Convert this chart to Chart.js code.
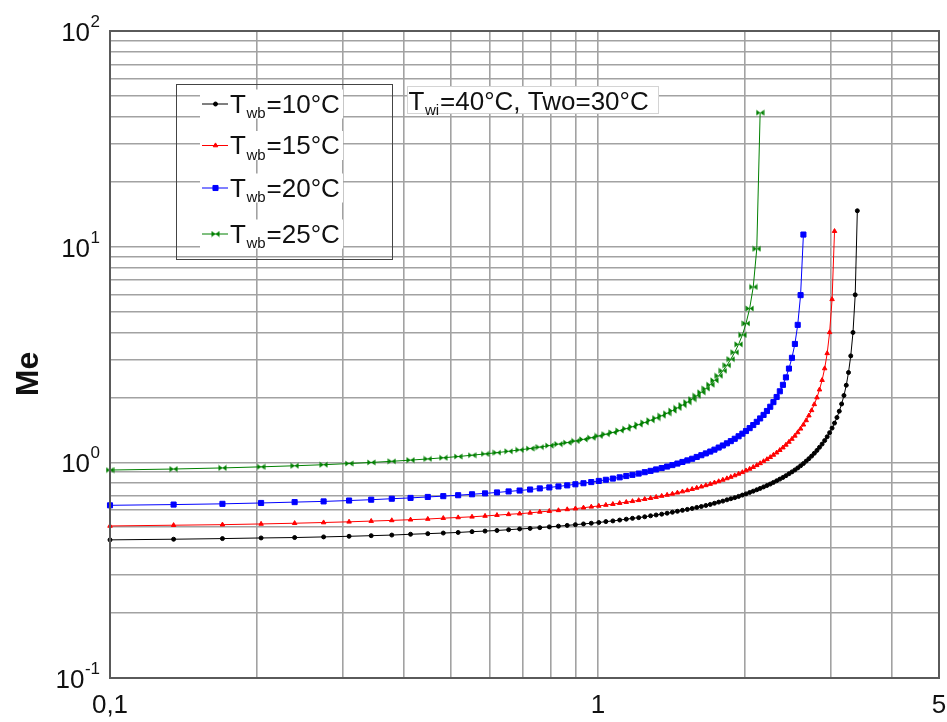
<!DOCTYPE html>
<html>
<head>
<meta charset="utf-8">
<title>Me vs L/G</title>
<script src="https://cdn.jsdelivr.net/npm/chart.js@4.4.1/dist/chart.umd.min.js"></script>
<style>
  html, body { margin: 0; padding: 0; background: #fff; }
  #wrap { width: 947px; height: 722px; }
</style>
</head>
<body>
<div id="wrap"><canvas id="chart"></canvas></div>
<script>
// L/G values, shared by every curve (each curve stops where Me blows up)
const lg = [
  0.1, 0.135, 0.17, 0.204, 0.239, 0.274, 0.309, 0.343, 0.378, 0.413,
  0.448, 0.482, 0.517, 0.552, 0.587, 0.621, 0.656, 0.691, 0.726, 0.76,
  0.795, 0.83, 0.865, 0.899, 0.934, 0.969, 1.004, 1.038, 1.073, 1.108,
  1.143, 1.177, 1.212, 1.247, 1.282, 1.316, 1.351, 1.386, 1.421, 1.455,
  1.49, 1.525, 1.56, 1.594, 1.629, 1.664, 1.699, 1.733, 1.768, 1.803,
  1.838, 1.872, 1.907, 1.942, 1.977, 2.011, 2.046, 2.081, 2.116, 2.15,
  2.185, 2.22, 2.255, 2.289, 2.324, 2.359, 2.394, 2.428, 2.463, 2.498,
  2.533, 2.567, 2.602, 2.637, 2.672, 2.706, 2.741, 2.776, 2.811, 2.845,
  2.88, 2.915, 2.95, 2.984, 3.019, 3.054, 3.089, 3.123, 3.158, 3.193,
  3.228, 3.262, 3.297, 3.332, 3.367, 3.401
];

// Me for Twb = 10, 15, 20, 25 °C
const me10 = [
  0.437, 0.440, 0.443, 0.446, 0.448, 0.451, 0.454, 0.457, 0.460, 0.464,
  0.467, 0.470, 0.473, 0.477, 0.480, 0.483, 0.487, 0.491, 0.494, 0.498,
  0.502, 0.506, 0.510, 0.514, 0.518, 0.522, 0.526, 0.531, 0.535, 0.540,
  0.545, 0.550, 0.554, 0.559, 0.565, 0.570, 0.575, 0.581, 0.587, 0.593,
  0.599, 0.605, 0.611, 0.618, 0.624, 0.631, 0.638, 0.646, 0.654, 0.661,
  0.670, 0.678, 0.686, 0.695, 0.705, 0.714, 0.725, 0.735, 0.746, 0.757,
  0.769, 0.781, 0.793, 0.807, 0.821, 0.836, 0.851, 0.867, 0.885, 0.903,
  0.922, 0.942, 0.964, 0.987, 1.013, 1.040, 1.069, 1.101, 1.136, 1.174,
  1.215, 1.262, 1.314, 1.373, 1.441, 1.520, 1.614, 1.726, 1.865, 2.042,
  2.277, 2.609, 3.116, 4.001, 5.98, 14.67
];
const me15 = [
  0.507, 0.511, 0.514, 0.518, 0.522, 0.526, 0.530, 0.534, 0.538, 0.542,
  0.546, 0.551, 0.555, 0.559, 0.564, 0.569, 0.574, 0.578, 0.583, 0.589,
  0.594, 0.599, 0.605, 0.610, 0.616, 0.622, 0.628, 0.634, 0.640, 0.647,
  0.654, 0.660, 0.667, 0.675, 0.682, 0.690, 0.698, 0.706, 0.714, 0.723,
  0.732, 0.741, 0.751, 0.761, 0.771, 0.782, 0.793, 0.805, 0.816, 0.829,
  0.842, 0.855, 0.869, 0.884, 0.899, 0.916, 0.932, 0.950, 0.969, 0.989,
  1.011, 1.033, 1.056, 1.082, 1.109, 1.139, 1.170, 1.205, 1.243, 1.283,
  1.327, 1.376, 1.431, 1.494, 1.565, 1.647, 1.742, 1.857, 1.997, 2.173,
  2.405, 2.724, 3.202, 4.007, 5.70, 11.80
];
const me20 = [
  0.632, 0.637, 0.642, 0.648, 0.654, 0.659, 0.665, 0.671, 0.678, 0.684,
  0.691, 0.697, 0.704, 0.711, 0.718, 0.725, 0.733, 0.740, 0.748, 0.757,
  0.765, 0.773, 0.782, 0.791, 0.800, 0.810, 0.820, 0.830, 0.841, 0.852,
  0.864, 0.875, 0.887, 0.900, 0.913, 0.927, 0.941, 0.956, 0.971, 0.987,
  1.004, 1.021, 1.039, 1.059, 1.079, 1.100, 1.122, 1.145, 1.171, 1.197,
  1.225, 1.254, 1.286, 1.321, 1.358, 1.397, 1.441, 1.489, 1.541, 1.598,
  1.659, 1.730, 1.810, 1.902, 2.009, 2.135, 2.287, 2.477, 2.721, 3.053,
  3.539, 4.339, 5.96, 11.38
];
const me25 = [
  0.921, 0.931, 0.942, 0.953, 0.964, 0.975, 0.987, 0.999, 1.011, 1.024,
  1.037, 1.050, 1.064, 1.079, 1.094, 1.109, 1.125, 1.142, 1.159, 1.177,
  1.196, 1.215, 1.235, 1.256, 1.278, 1.301, 1.325, 1.350, 1.376, 1.404,
  1.433, 1.463, 1.496, 1.530, 1.567, 1.605, 1.645, 1.689, 1.737, 1.788,
  1.842, 1.901, 1.965, 2.035, 2.112, 2.197, 2.292, 2.399, 2.519, 2.657,
  2.818, 3.008, 3.238, 3.524, 3.895, 4.404, 5.167, 6.504, 9.779, 41.8
];

const seriesNames = ['=10°C', '=15°C', '=20°C', '=25°C'];

// grid lines and labelled ticks
const xGrid = [0.1, 0.2, 0.3, 0.4, 0.5, 0.6, 0.7, 0.8, 0.9, 1, 2, 3, 4, 5];
const yGrid = [0.1, 0.2, 0.3, 0.4, 0.5, 0.6, 0.7, 0.8, 0.9,
  1, 2, 3, 4, 5, 6, 7, 8, 9, 10, 20, 30, 40, 50, 60, 70, 80, 90, 100];
const xTickValues = [0.1, 1, 5];
const xTickLabels = ['0,1', '1', '5'];
const yTickValues = [0.1, 1, 10, 100];
const yTickExps = ['-1', '0', '1', '2'];

const FONT = "'Liberation Sans', Arial, sans-serif";
const colors = ['#000000', '#ff0000', '#0000ff', '#008000'];

/** hourglass-like marker used for the green curve */
function bowtie(color) {
    const c = document.createElement('canvas');
    c.width = 9;
    c.height = 7;
    const g = c.getContext('2d');
    g.fillStyle = color;
    g.beginPath();
    g.moveTo(0.5, 0.5); g.lineTo(4.5, 3.5); g.lineTo(0.5, 6.5); g.closePath();
    g.moveTo(8.5, 0.5); g.lineTo(4.5, 3.5); g.lineTo(8.5, 6.5); g.closePath();
    g.fill();
    return c;
}

const pointStyles = ['circle', 'triangle', 'rect', bowtie('#008000')];
const pointRadii = [2, 2.6, 3.6, 3];

/** marker in the legend, same look as the chart points */
function drawMarker(ctx, style, color, r, x, y) {
    ctx.fillStyle = color;
    ctx.strokeStyle = color;
    ctx.lineWidth = 1;
    if (style instanceof HTMLCanvasElement) {
        ctx.drawImage(style, x - style.width / 2, y - style.height / 2);
        return;
    }
    ctx.beginPath();
    if (style === 'circle') {
        ctx.arc(x, y, r, 0, Math.PI * 2);
    } else if (style === 'rect') {
        const s = r * Math.SQRT1_2;
        ctx.rect(x - s, y - s, 2 * s, 2 * s);
    } else {
        for (let k = 0; k < 3; k++) {
            const a = k * 2 * Math.PI / 3;
            const px = x + Math.sin(a) * r, py = y - Math.cos(a) * r;
            if (k === 0) ctx.moveTo(px, py); else ctx.lineTo(px, py);
        }
        ctx.closePath();
    }
    ctx.fill();
    ctx.stroke();
}

/** text with a subscript part: T + wb + rest */
function subText(ctx, x, y, main, sub, rest) {
    ctx.textAlign = 'left';
    ctx.textBaseline = 'alphabetic';
    ctx.font = '26px ' + FONT;
    ctx.fillText(main, x, y);
    x += ctx.measureText(main).width + 0.5;
    ctx.font = '15px ' + FONT;
    ctx.fillText(sub, x, y + 5.5);
    x += ctx.measureText(sub).width + 1;
    ctx.font = '26px ' + FONT;
    ctx.fillText(rest, x, y);
}

const textPlugin = {
    id: 'texts',
    afterDraw(chart) {
        const ctx = chart.ctx;
        const a = chart.chartArea;
        const xs = chart.scales.x, ys = chart.scales.y;
        ctx.save();

        // frame
        ctx.strokeStyle = '#5a5a5a';
        ctx.lineWidth = 2;
        ctx.strokeRect(a.left, a.top, a.right - a.left, a.bottom - a.top);

        ctx.fillStyle = '#111';

        // y tick labels 10^n
        yTickValues.forEach((v, i) => {
            const py = ys.getPixelForValue(v);
            ctx.font = '17px ' + FONT;
            const ew = ctx.measureText(yTickExps[i]).width;
            ctx.font = '26px ' + FONT;
            const bw = ctx.measureText('10').width;
            ctx.textAlign = 'left';
            ctx.fillText('10', 100 - ew - bw - 0.5, py + 10);
            ctx.font = '17px ' + FONT;
            ctx.fillText(yTickExps[i], 100 - ew, py - 4);
        });

        // x tick labels
        ctx.font = '26px ' + FONT;
        ctx.textAlign = 'center';
        xTickValues.forEach((v, i) => {
            ctx.fillText(xTickLabels[i], xs.getPixelForValue(v), 713);
        });

        // axis title
        ctx.save();
        ctx.translate(26, 374);
        ctx.rotate(-Math.PI / 2);
        ctx.font = 'bold 32px ' + FONT;
        ctx.textAlign = 'center';
        ctx.fillText('Me', 0, 11.5);
        ctx.restore();

        // legend
        ctx.strokeStyle = '#444';
        ctx.lineWidth = 1;
        ctx.strokeRect(176.5, 84.5, 216, 175);
        const rows = [112.5, 154, 196.5, 242.5];
        rows.forEach((by, i) => {
            ctx.fillStyle = '#fff';
            ctx.fillRect(200, by - 23, 143, 29);
            const my = by - 8.5;
            ctx.strokeStyle = colors[i];
            ctx.lineWidth = 1;
            ctx.beginPath();
            ctx.moveTo(202, my);
            ctx.lineTo(228, my);
            ctx.stroke();
            drawMarker(ctx, pointStyles[i], colors[i], pointRadii[i], 215.5, my);
            ctx.fillStyle = '#111';
            subText(ctx, 230, by, 'T', 'wb', seriesNames[i]);
        });

        // conditions box
        ctx.fillStyle = '#fff';
        ctx.fillRect(407, 86, 251, 27);
        ctx.strokeStyle = '#d4d4d4';
        ctx.strokeRect(407.5, 86.5, 251, 27);
        ctx.fillStyle = '#111';
        subText(ctx, 408.5, 109.5, 'T', 'wi', '=40°C, Two=30°C');

        ctx.restore();
    }
};

const curves = [me10, me15, me20, me25];

window.onload = () => {
    const ctx = document.getElementById('chart').getContext('2d');
    new Chart(ctx, {
        type: 'line',
        data: {
            datasets: curves.map((vals, i) => ({
                label: 'Twb' + seriesNames[i],
                data: vals.map((v, j) => ({ x: lg[j], y: v })),
                borderColor: colors[i],
                backgroundColor: colors[i],
                borderWidth: 1,
                pointStyle: pointStyles[i],
                pointRadius: pointRadii[i],
                pointBorderWidth: 1,
                pointBackgroundColor: colors[i],
                pointBorderColor: colors[i],
                tension: 0,
                clip: false
            }))
        },
        options: {
            responsive: true,
            maintainAspectRatio: false,
            animation: false,
            events: [],
            layout: { padding: { left: 0, right: 8, top: 31, bottom: 0 } },
            scales: {
                x: {
                    type: 'logarithmic',
                    min: 0.1,
                    max: 5,
                    afterBuildTicks: (axis) => { axis.ticks = xGrid.map(v => ({ value: v })); },
                    afterFit: (axis) => { axis.height = 44; },
                    ticks: { display: false },
                    grid: { color: '#a2a2a2', lineWidth: 1.6, drawTicks: false },
                    border: { display: false }
                },
                y: {
                    type: 'logarithmic',
                    min: 0.1,
                    max: 100,
                    afterBuildTicks: (axis) => { axis.ticks = yGrid.map(v => ({ value: v })); },
                    afterFit: (axis) => { axis.width = 110; },
                    ticks: { display: false },
                    grid: { color: '#a2a2a2', lineWidth: 1.6, drawTicks: false },
                    border: { display: false }
                }
            },
            plugins: {
                legend: { display: false },
                tooltip: { enabled: false }
            }
        },
        plugins: [textPlugin]
    });
}
</script>
</body>
</html>
